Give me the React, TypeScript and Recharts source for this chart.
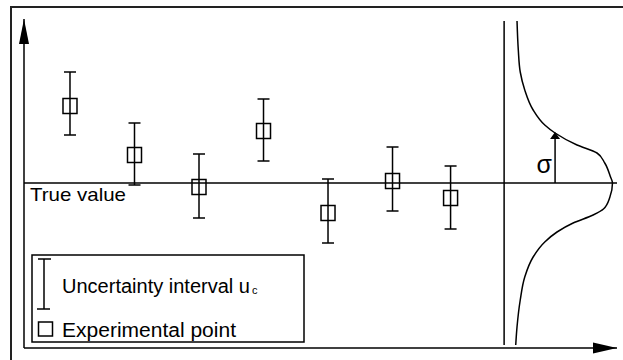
import React from "react";
import {
  ComposedChart,
  XAxis,
  YAxis,
  Scatter,
  ErrorBar,
  Line,
  ReferenceLine,
  ReferenceDot,
  Legend,
} from "recharts";

// schematic units: true value at 0, points indexed 1..7
const X_DOMAIN = [0.287, 9.48];
const Y_DOMAIN = [-16.5, 16.4];
const TRUE_VALUE = 0;

const pointX = [1, 2, 3, 4, 5, 6, 6.9];
const pointY = [7.7, 2.8, -0.4, 5.2, -3.0, 0.2, -1.5];
const errLow = [2.9, 3.0, 3.1, 3.0, 3.0, 3.0, 3.1];
const errHigh = [3.4, 3.2, 3.3, 3.2, 3.4, 3.4, 3.2];

// distribution curve on the right, read top to bottom
const curveX = [
  7.93, 7.95, 7.98, 8.05, 8.18, 8.36, 8.52, 8.86, 9.17, 9.29, 9.38, 9.41,
  9.37, 9.27, 9.11, 8.8, 8.55, 8.36, 8.18, 8.05, 7.98, 7.93, 7.91,
];
const curveY = [
  16.2, 13.3, 11.1, 9.3, 7.3, 5.8, 5.0, 3.8, 3.0, 2.0, 0.6, 0.0, -1.4, -2.6,
  -3.2, -4.0, -4.9, -5.9, -7.4, -9.4, -11.7, -14.4, -16.2,
];

const DIVIDER_X = 7.73;
const DIVIDER_Y = [16.2, -16.2];
const SIGMA_X = 8.52;
const SIGMA_TOP = 5.1;
const SIGMA_LABEL_POS = [8.35, 1.0];

const TRUE_VALUE_LABEL = "True value";
const SIGMA_LABEL = "σ";
const INTERVAL_LABEL = "Uncertainty interval u";
const INTERVAL_SUB = "c";
const POINT_LABEL = "Experimental point";

const points = pointX.map((x, i) => ({
  x,
  y: pointY[i],
  err: [errLow[i], errHigh[i]],
}));
const curve = curveX.map((x, i) => ({ x, y: curveY[i] }));

const FONT = "'Liberation Sans', Arial, sans-serif";
const INK = "#000";

const Square = (props: any) => (
  <rect
    x={props.cx - 7}
    y={props.cy - 7.5}
    width={14}
    height={15}
    fill="none"
    stroke={INK}
    strokeWidth={1.5}
  />
);

const upArrow = (len: number, half: number) => (props: any) => {
  const { cx, cy } = props;
  return (
    <polygon
      points={`${cx},${cy} ${cx - half},${cy + len} ${cx + half},${cy + len}`}
      fill={INK}
    />
  );
};

const rightArrow = (len: number, half: number) => (props: any) => {
  const { cx, cy } = props;
  return (
    <polygon
      points={`${cx},${cy} ${cx - len},${cy - half} ${cx - len},${cy + half}`}
      fill={INK}
    />
  );
};

const SigmaText = (props: any) => (
  <text
    x={props.cx}
    y={props.cy}
    textAnchor="middle"
    fontFamily={FONT}
    fontSize={25}
    fill={INK}
  >
    {SIGMA_LABEL}
  </text>
);

const TrueValueLabel = (props: any) => {
  const vb = props.viewBox;
  return (
    <text
      x={vb.x + 6}
      y={vb.y + 18}
      fontFamily={FONT}
      fontSize={19}
      textLength={96}
      lengthAdjust="spacingAndGlyphs"
      fill={INK}
    >
      {TRUE_VALUE_LABEL}
    </text>
  );
};

const renderLegend = () => (
  <svg width={274} height={89} style={{ display: "block" }}>
    <rect x={1} y={1} width={272} height={87} fill="#fff" stroke={INK} strokeWidth={1.5} />
    <line x1={13} y1={5} x2={13} y2={55} stroke={INK} strokeWidth={1.5} />
    <line x1={7} y1={5} x2={20} y2={5} stroke={INK} strokeWidth={1.5} />
    <line x1={6} y1={55} x2={19} y2={55} stroke={INK} strokeWidth={1.5} />
    <text
      x={31}
      y={38.5}
      fontFamily={FONT}
      fontSize={19.5}
      textLength={188}
      lengthAdjust="spacingAndGlyphs"
      fill={INK}
    >
      {INTERVAL_LABEL}
    </text>
    <text x={221} y={40} fontFamily={FONT} fontSize={11} fill={INK}>
      {INTERVAL_SUB}
    </text>
    <rect x={7.5} y={68} width={14} height={14} fill="none" stroke={INK} strokeWidth={1.5} />
    <text
      x={31}
      y={82.7}
      fontFamily={FONT}
      fontSize={19.5}
      textLength={174}
      lengthAdjust="spacingAndGlyphs"
      fill={INK}
    >
      {POINT_LABEL}
    </text>
  </svg>
);

export default function App() {
  return (
    <div
      style={{
        position: "absolute",
        left: 0,
        top: 0,
        width: 623,
        height: 360,
        overflow: "hidden",
        background: "#fff",
      }}
    >
      <div
        style={{
          position: "absolute",
          left: 10,
          top: 6,
          width: 700,
          height: 400,
          borderTop: "2px solid #222",
          borderLeft: "2px solid #222",
        }}
      />
      <div style={{ position: "absolute", left: 0, top: 0 }}>
        <ComposedChart
          width={623}
          height={360}
          margin={{ top: 19, right: 6, bottom: 12, left: 24 }}
        >
          <XAxis type="number" dataKey="x" domain={X_DOMAIN} hide allowDataOverflow />
          <YAxis type="number" dataKey="y" domain={Y_DOMAIN} hide allowDataOverflow />

          {/* axes */}
          <ReferenceLine x={X_DOMAIN[0]} stroke={INK} strokeWidth={1.5} ifOverflow="visible" />
          <ReferenceLine y={Y_DOMAIN[0]} stroke={INK} strokeWidth={1.5} ifOverflow="visible" />
          <ReferenceDot
            x={X_DOMAIN[0]}
            y={Y_DOMAIN[1]}
            ifOverflow="visible"
            shape={upArrow(25, 5)}
          />
          <ReferenceDot
            x={X_DOMAIN[1]}
            y={Y_DOMAIN[0]}
            ifOverflow="visible"
            shape={rightArrow(24, 5.5)}
          />

          <ReferenceLine
            y={TRUE_VALUE}
            stroke={INK}
            strokeWidth={1.3}
            ifOverflow="visible"
            label={TrueValueLabel}
          />
          <ReferenceLine
            segment={[
              { x: DIVIDER_X, y: DIVIDER_Y[0] },
              { x: DIVIDER_X, y: DIVIDER_Y[1] },
            ]}
            stroke={INK}
            strokeWidth={1.5}
            ifOverflow="visible"
          />

          {/* sigma arrow */}
          <ReferenceLine
            segment={[
              { x: SIGMA_X, y: TRUE_VALUE },
              { x: SIGMA_X, y: SIGMA_TOP - 0.5 },
            ]}
            stroke={INK}
            strokeWidth={1.5}
            ifOverflow="visible"
          />
          <ReferenceDot x={SIGMA_X} y={SIGMA_TOP} ifOverflow="visible" shape={upArrow(7, 5)} />
          <ReferenceDot
            x={SIGMA_LABEL_POS[0]}
            y={SIGMA_LABEL_POS[1]}
            ifOverflow="visible"
            shape={SigmaText}
          />

          <Line
            data={curve}
            dataKey="y"
            type="monotoneY"
            stroke={INK}
            strokeWidth={1.5}
            dot={false}
            activeDot={false}
            isAnimationActive={false}
          />

          <Scatter
            name={POINT_LABEL}
            data={points}
            shape={Square}
            isAnimationActive={false}
          >
            <ErrorBar
              dataKey="err"
              direction="y"
              width={6}
              stroke={INK}
              strokeWidth={1.5}
              isAnimationActive={false}
            />
          </Scatter>

          <Legend
            layout="horizontal"
            align="center"
            verticalAlign="middle"
            width={274}
            height={89}
            wrapperStyle={{ left: 31, top: 254, width: 274, height: 89 }}
            content={renderLegend}
          />
        </ComposedChart>
      </div>
    </div>
  );
}
